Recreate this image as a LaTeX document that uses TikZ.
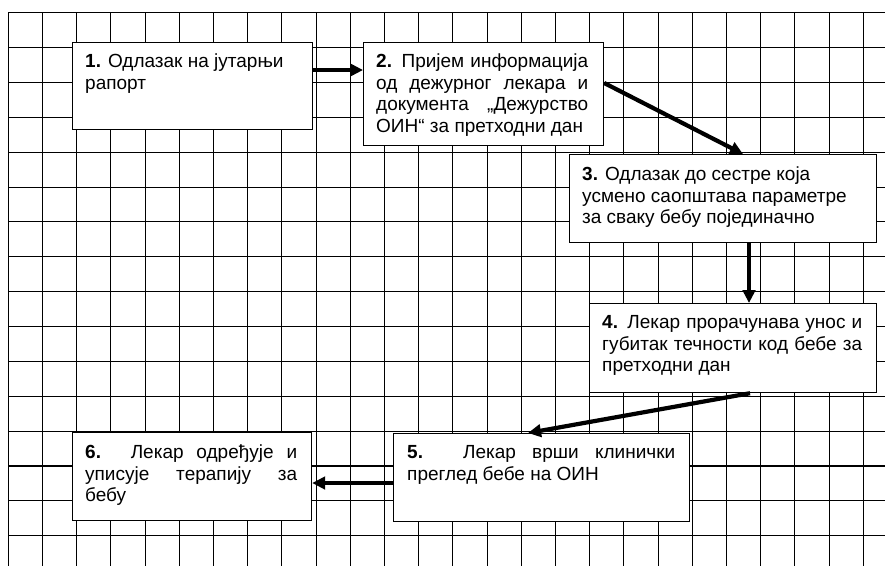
\documentclass[tikz,border=0pt]{standalone}
\usepackage{fontspec}
\setmainfont{Liberation Sans}
\usetikzlibrary{arrows.meta,calc}

\tikzset{
  gridline/.style={line width=1.1pt, black},
  stepbox/.style={draw=black, line width=1.2pt, fill=white, anchor=north west, inner sep=0pt},
  steptext/.style={anchor=north west, inner sep=0pt, font=\fontsize{19}{21.8}\selectfont},
  flow/.style={line width=4.2pt, -{Triangle[length=13pt,width=12.5pt]}},
}

% justified line spanning the full text width
\newcommand\jl[1]{\makebox[\linewidth][s]{#1}}
% strut fixing the height of the first line
\newcommand\firstline{\rule{0pt}{15pt}}

\begin{document}
\begin{tikzpicture}[x=1pt,y=-1pt]
\useasboundingbox[fill=white] (0,0) rectangle (885,566);

% squared paper
\foreach \k in {0,...,25}{
  \pgfmathsetmacro\gx{8.3+34.2*\k}
  \draw[gridline] (\gx,12.7) -- (\gx,566);
}
\foreach \k in {0,...,15}{
  \pgfmathsetmacro\gy{12.7+34.87*\k}
  \draw[gridline] (8.3,\gy) -- (885,\gy);
}

% step boxes
\node[stepbox, minimum width=240pt, minimum height=87pt] (b1) at (72,42) {};
\node[stepbox, minimum width=240pt, minimum height=103pt] (b2) at (363,42) {};
\node[stepbox, minimum width=307pt, minimum height=88pt] (b3) at (569,154) {};
\node[stepbox, minimum width=287pt, minimum height=89pt] (b4) at (589,303) {};
\node[stepbox, minimum width=296pt, minimum height=88pt] (b5) at (393,433) {};
\node[stepbox, minimum width=239pt, minimum height=88pt] (b6) at (72,432) {};

% step texts
\node[steptext] (t1) at (85,52) {\parbox[t]{220pt}{\firstline\textbf{1.} Одлазак на јутарњи\\
  рапорт}};
\node[steptext] (t2) at (376,52) {\parbox[t]{212pt}{\firstline\jl{\textbf{2.} Пријем информација}\\
  \jl{од дежурног лекара и}\\
  \jl{документа „Дежурство}\\
  ОИН“ за претходни дан}};
\node[steptext] (t3) at (582,165) {\parbox[t]{285pt}{\firstline\textbf{3.} Одлазак до сестре која\\
  усмено саопштава параметре\\
  за сваку бебу појединачно}};
\node[steptext] (t4) at (602,313) {\parbox[t]{260pt}{\firstline\jl{\textbf{4.} Лекар прорачунава унос и}\\
  \jl{губитак течности код бебе за}\\
  претходни дан}};
\node[steptext] (t5) at (407,443) {\parbox[t]{268pt}{\firstline\jl{\textbf{5.} Лекар врши клинички}\\
  преглед бебе на ОИН}};
\node[steptext] (t6) at (85,443) {\parbox[t]{212pt}{\firstline\jl{\textbf{6.} Лекар одређује и}\\
  \jl{уписује терапију за}\\
  бебу}};

% flow arrows
\draw[flow] ($(b1.north east)+(0,28)$) -- ($(b2.north west)+(0,28)$);
\draw[flow] ($(b2.north east)+(0,41)$) -- ($(b3.north west)+(174,0)$);
\draw[flow] ($(b3.south west)+(180,0)$) -- ($(b4.north west)+(160,0)$);
\draw[flow] ($(b4.south west)+(161,0)$) -- ($(b5.north west)+(135,0)$);
\draw[flow] ($(b5.north west)+(0,50)$) -- ($(b6.north east)+(0,51)$);
\end{tikzpicture}
\end{document}
